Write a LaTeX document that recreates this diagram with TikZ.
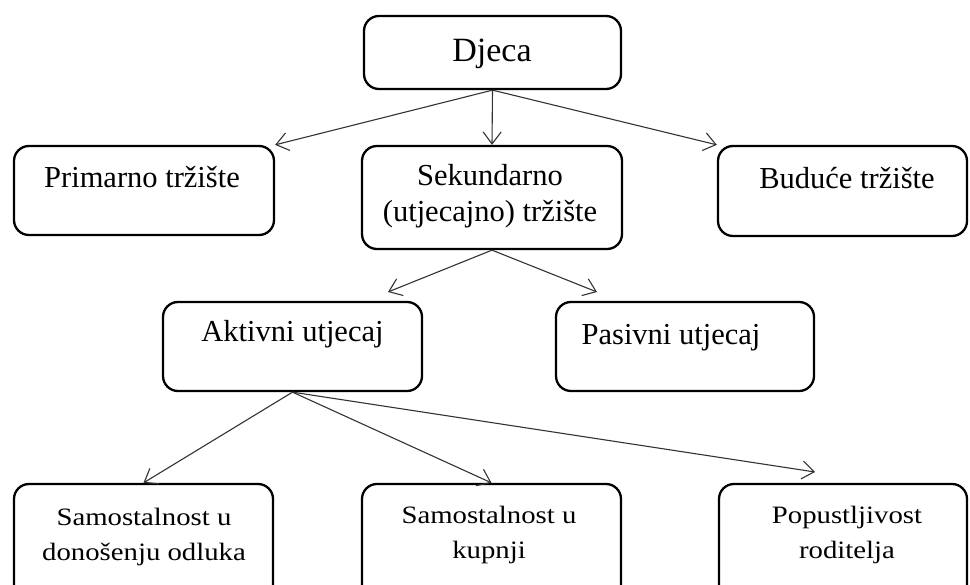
\documentclass[tikz,border=0pt]{standalone}
\usepackage{fontspec}
\setmainfont{Liberation Serif}
\newfontfamily\wideserif[FakeStretch=1.15]{Liberation Serif}
\usepackage{tikz}
\usetikzlibrary{arrows.meta,calc}
\tikzset{box/.style={draw=black,line width=2.3pt,rounded corners=15pt,fill=white},lbl/.style={anchor=base,inner sep=0pt,align=center,font=\fontsize{30.5}{36}\selectfont},small/.style={anchor=base,inner sep=0pt,align=center,font=\wideserif\fontsize{25}{35}\selectfont},arr/.style={-{Straight Barb[length=12pt,width=18pt]},draw=black!80,line width=1.1pt}}

\begin{document}
\begin{tikzpicture}[x=1pt,y=-1pt]
\clip (0,0) rectangle (970,585);
\fill[white] (0,0) rectangle (970,585);
% boxes
\node[box,minimum width=257pt,minimum height=73pt] (djeca) at (492.5,52.5) {};
\node[box,minimum width=260pt,minimum height=89pt] (prim) at (144,190.5) {};
\node[box,minimum width=260pt,minimum height=103pt] (sek) at (492,197.5) {};
\node[box,minimum width=249pt,minimum height=90pt] (bud) at (842.5,191) {};
\node[box,minimum width=259pt,minimum height=89pt] (akt) at (292.5,346.5) {};
\node[box,minimum width=258pt,minimum height=89pt] (pas) at (685,346.5) {};
\node[box,minimum width=259pt,minimum height=134pt] (sam) at (143.5,551) {};
\node[box,minimum width=259pt,minimum height=134pt] (kup) at (491.5,551) {};
\node[box,minimum width=248pt,minimum height=134pt] (pop) at (843,551) {};
% texts (two-line texts sit on the baseline of their last line)
\node[lbl,font=\fontsize{34}{40}\selectfont] (djecatxt) at (492,62) {Djeca};
\node[lbl] (primtxt) at (142,188) {Primarno tržište};
\node[lbl] (sektxt) at (490,222) {Sekundarno\\(utjecajno) tržište};
\node[lbl] (budtxt) at (847,189) {Buduće tržište};
\node[lbl] (akttxt) at (292.5,342) {Aktivni utjecaj};
\node[lbl] (pastxt) at (671,345) {Pasivni utjecaj};
\node[small] (samtxt) at (144,560) {Samostalnost u\\donošenju odluka};
\node[small] (kuptxt) at (489,558) {Samostalnost u\\kupnji};
\node[small] (poptxt) at (847,558) {Popustljivost\\roditelja};
% free ends
\coordinate (aktin) at (388,292);
\coordinate (pasin) at (597,292);
\coordinate (popin) at (815,472);
% connectors
\draw[arr] (djeca.south) -- (prim.north east);
\draw[arr] (djeca.south) -- (sek.north);
\draw[arr] (djeca.south) -- (bud.north west);
\draw[arr] (sek.south) -- (aktin);
\draw[arr] (sek.south) -- (pasin);
\draw[arr] (akt.south) -- (sam.north);
\draw[arr] (akt.south) -- (kup.north);
\draw[arr] (akt.south) -- (popin);
\end{tikzpicture}
\end{document}
